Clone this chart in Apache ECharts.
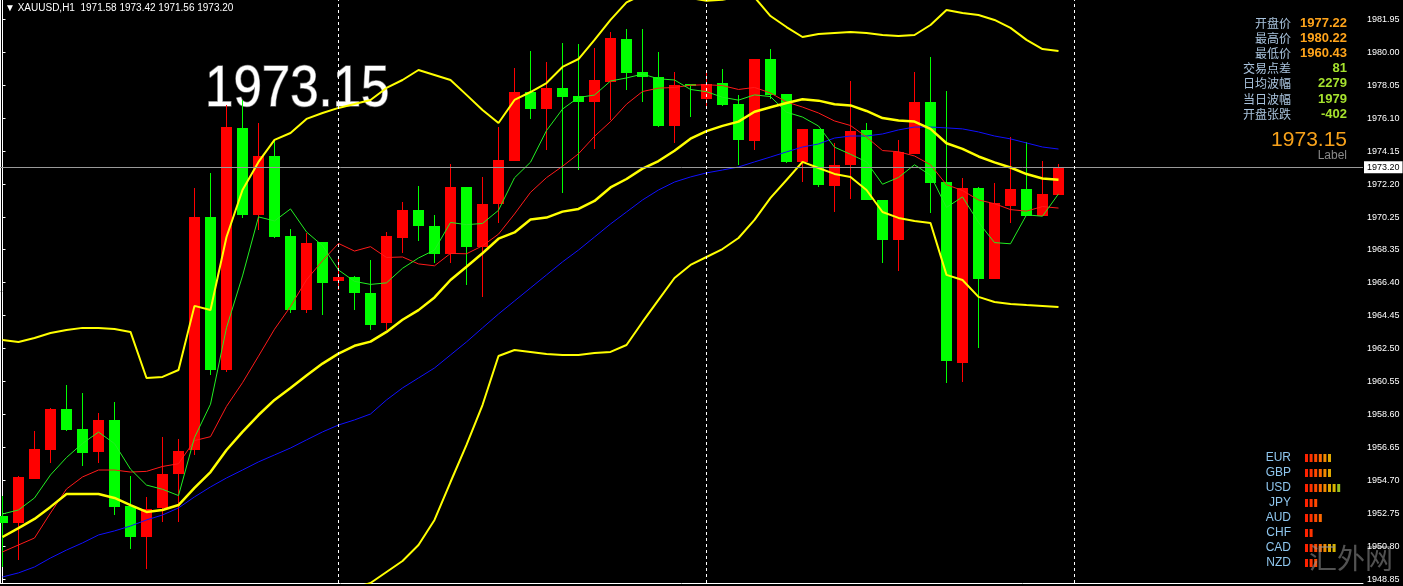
<!DOCTYPE html>
<html><head><meta charset="utf-8">
<script src="https://cdn.jsdelivr.net/npm/echarts@6/dist/echarts.min.js"></script>
<style>html,body{margin:0;padding:0;background:#000;}#c{width:1403px;height:586px;}</style>
</head><body><div id="c"></div>
<script>
// ---- data (index = hourly bar number, left to right) ----
const opens = [1952.59,1952.20,1954.78,1956.49,1958.92,1957.73,1956.39,1958.27,1953.18,1951.37,1953.05,1955.07,1956.49,1970.28,1961.22,1975.54,1970.38,1973.89,1969.16,1964.77,1968.79,1966.48,1966.70,1965.75,1963.98,1969.04,1970.68,1969.73,1968.06,1972.06,1968.51,1971.01,1973.59,1977.67,1976.65,1977.89,1977.41,1977.08,1978.26,1980.78,1978.85,1978.52,1975.64,1978.11,1977.22,1978.20,1976.94,1974.77,1979.60,1977.53,1973.53,1975.46,1972.11,1973.34,1975.40,1971.27,1968.90,1973.99,1977.08,1972.35,1961.65,1972.00,1966.60,1970.93,1971.94,1970.34,1971.58];
const highs = [1953.77,1954.96,1957.63,1958.95,1960.33,1959.84,1958.66,1959.35,1954.96,1953.73,1957.28,1957.14,1971.96,1972.88,1976.88,1977.18,1975.80,1974.81,1969.54,1969.30,1968.79,1967.76,1966.78,1967.72,1969.39,1971.17,1972.12,1970.38,1973.40,1972.06,1972.65,1975.60,1979.09,1980.07,1979.44,1980.56,1980.49,1980.23,1981.21,1981.37,1981.37,1980.00,1978.85,1978.12,1978.85,1979.01,1977.47,1979.60,1980.22,1977.53,1975.46,1975.46,1974.62,1978.30,1975.80,1971.27,1974.81,1978.81,1979.70,1977.73,1972.55,1972.06,1972.29,1975.01,1974.72,1973.59,1973.42];
const lows = [1949.58,1949.99,1954.75,1955.74,1957.64,1955.56,1955.74,1952.65,1950.64,1949.44,1952.26,1952.26,1956.20,1960.93,1961.10,1970.22,1969.49,1969.00,1964.57,1964.61,1964.47,1965.95,1964.77,1963.59,1963.59,1968.12,1968.86,1967.56,1967.53,1966.24,1965.52,1969.89,1973.59,1976.04,1974.22,1971.66,1973.04,1974.27,1976.00,1977.77,1977.08,1975.57,1974.66,1976.19,1976.75,1976.82,1973.34,1974.22,1977.22,1973.47,1972.35,1972.05,1970.56,1971.33,1971.27,1967.53,1967.07,1973.99,1970.48,1960.43,1960.50,1962.50,1966.60,1969.89,1970.34,1970.34,1971.56];
const closes = [1952.18,1954.91,1956.55,1958.92,1957.67,1956.33,1958.27,1953.14,1951.37,1952.99,1955.07,1956.45,1970.28,1961.22,1975.57,1970.38,1973.89,1969.10,1964.77,1968.74,1966.35,1966.70,1965.75,1963.88,1969.16,1970.68,1969.75,1968.06,1972.06,1968.51,1971.03,1973.63,1977.67,1976.65,1977.89,1977.37,1977.08,1978.36,1980.82,1978.79,1978.52,1975.64,1978.05,1978.01,1978.12,1976.88,1974.81,1979.60,1977.47,1973.53,1975.46,1972.15,1973.34,1975.36,1971.27,1968.90,1974.12,1977.08,1972.29,1961.77,1972.00,1966.60,1971.07,1971.94,1970.34,1971.62,1973.20];
const maFast = [1952.71,1952.95,1953.66,1955.02,1956.05,1956.88,1957.55,1956.87,1955.36,1954.42,1954.17,1953.80,1957.23,1959.20,1963.72,1966.78,1970.27,1970.03,1970.74,1969.38,1968.57,1967.13,1966.46,1966.28,1966.37,1967.23,1967.84,1968.31,1969.94,1969.81,1969.88,1970.66,1972.58,1973.50,1975.37,1976.64,1977.33,1977.47,1978.30,1978.48,1978.71,1978.43,1978.36,1977.80,1977.67,1977.34,1977.17,1977.48,1977.38,1976.46,1976.17,1975.64,1974.39,1973.97,1973.52,1972.20,1972.60,1973.35,1972.73,1970.83,1971.45,1969.95,1968.75,1968.68,1970.39,1970.31,1971.63];
const maMid = [1950.47,1950.88,1951.29,1952.77,1954.19,1954.90,1955.31,1955.31,1955.19,1955.23,1955.52,1955.68,1957.05,1957.28,1959.07,1960.47,1962.04,1963.63,1964.97,1966.55,1967.68,1968.70,1968.25,1968.51,1967.87,1967.90,1967.49,1967.38,1968.11,1968.09,1968.56,1969.25,1970.44,1971.72,1972.59,1973.26,1974.00,1975.03,1975.90,1976.93,1977.68,1977.88,1977.92,1978.05,1978.08,1978.03,1977.80,1977.92,1977.59,1977.06,1976.76,1976.41,1975.94,1975.67,1974.99,1974.19,1974.12,1973.87,1973.35,1972.17,1971.83,1971.27,1971.05,1970.70,1970.61,1970.88,1970.79];
const maSlow = [1948.99,1949.23,1949.58,1950.11,1950.58,1951.00,1951.47,1951.71,1952.00,1952.36,1952.65,1953.07,1953.72,1954.31,1954.84,1955.31,1955.79,1956.20,1956.61,1957.09,1957.56,1957.97,1958.27,1958.62,1959.45,1960.16,1960.75,1961.34,1962.11,1962.88,1963.71,1964.53,1965.30,1966.07,1966.84,1967.61,1968.31,1969.08,1969.85,1970.56,1971.27,1971.86,1972.33,1972.63,1972.87,1973.04,1973.22,1973.52,1973.81,1974.11,1974.40,1974.58,1974.93,1975.05,1975.05,1975.17,1975.41,1975.58,1975.58,1975.53,1975.47,1975.29,1975.05,1974.88,1974.64,1974.40,1974.28];
const bandMid = [1951.35,1951.88,1952.42,1953.13,1953.89,1953.89,1953.89,1953.66,1953.24,1952.83,1952.95,1953.24,1954.25,1955.19,1956.49,1957.56,1958.56,1959.45,1960.16,1960.89,1961.60,1962.19,1962.65,1962.90,1963.47,1964.19,1964.76,1965.51,1966.54,1967.32,1968.12,1968.98,1969.35,1970.12,1970.23,1970.58,1970.74,1971.21,1972.01,1972.51,1973.12,1973.57,1974.18,1974.89,1975.34,1975.65,1975.90,1976.48,1976.75,1977.00,1977.22,1977.14,1976.93,1976.86,1976.53,1976.11,1975.96,1975.90,1975.47,1974.62,1974.29,1973.84,1973.49,1973.19,1972.80,1972.54,1972.46];
const bandUpper = [1963.00,1962.88,1963.11,1963.41,1963.59,1963.71,1963.71,1963.65,1963.47,1960.75,1960.81,1961.22,1965.01,1964.77,1969.08,1971.86,1973.52,1974.82,1975.23,1976.06,1976.41,1976.71,1976.94,1977.18,1977.89,1978.36,1978.95,1978.66,1978.36,1977.48,1976.59,1975.82,1977.18,1977.65,1978.18,1979.13,1979.60,1980.73,1981.91,1982.95,1983.40,1983.30,1983.30,1983.20,1983.05,1983.10,1983.30,1983.25,1982.14,1981.49,1980.90,1981.08,1981.14,1981.20,1981.14,1981.02,1980.96,1981.02,1981.61,1982.50,1982.32,1982.20,1981.91,1981.44,1980.73,1980.19,1980.08];
const bandLower = [1939.71,1940.89,1941.72,1942.84,1944.20,1944.08,1944.08,1943.67,1943.02,1944.91,1945.09,1945.27,1943.49,1945.62,1943.91,1943.26,1943.61,1944.08,1945.09,1945.74,1946.80,1947.69,1948.34,1948.63,1949.28,1949.93,1950.88,1952.36,1954.60,1956.79,1959.15,1962.05,1962.40,1962.29,1962.17,1962.11,1962.11,1962.23,1962.29,1962.70,1964.06,1965.36,1966.66,1967.43,1967.90,1968.37,1969.02,1970.09,1971.39,1972.45,1973.52,1973.16,1972.81,1972.63,1971.86,1970.56,1970.21,1970.03,1969.91,1966.84,1966.54,1965.54,1965.24,1965.12,1965.06,1965.01,1964.95];
const priceTicks = [1981.95,1980.00,1978.05,1976.10,1974.15,1972.20,1970.25,1968.35,1966.40,1964.45,1962.50,1960.55,1958.60,1956.65,1954.70,1952.75,1950.80,1948.85];
const daySeparators = [21, 44, 67];
const lastPrice = 1973.20;
const headerText = '▼ XAUUSD,H1  1971.58 1973.42 1971.56 1973.20';
const bigLabel = '1973.15';
const infoLabels = ['开盘价','最高价','最低价','交易点差','日均波幅','当日波幅','开盘张跌'];
const infoValues = ['1977.22','1980.22','1960.43','81','2279','1979','-402'];
const infoValueKinds = ['o','o','o','g','g','g','g'];
const currencies = ['EUR','GBP','USD','JPY','AUD','CHF','CAD','NZD'];
const strength = [6,6,8,3,4,2,7,3];

// ---- chart ----
const chart = echarts.init(document.getElementById('c'), null, {renderer:'canvas'});
const idx = (arr) => arr.map((v,i)=>[i,v]);
const candleData = opens.map((o,i)=>[i,o,closes[i],lows[i],highs[i]]);
const UP = '#ff0000', DOWN = '#00ff00';

function renderCandle(params, api){
  const i = api.value(0), o = api.value(1), c = api.value(2), l = api.value(3), h = api.value(4);
  const pO = api.coord([i,o]), pC = api.coord([i,c]), pL = api.coord([i,l]), pH = api.coord([i,h]);
  const col = c >= o ? UP : DOWN;
  const x = pO[0];
  const top = Math.round(Math.min(pO[1], pC[1]));
  const bot = Math.round(Math.max(pO[1], pC[1]));
  return {type:'group', children:[
    {type:'line', shape:{x1:x,y1:Math.round(pH[1]),x2:x,y2:Math.round(pL[1])}, style:{stroke:col,lineWidth:1}},
    {type:'rect', shape:{x:Math.round(x-5.5), y:top, width:11, height:Math.max(1,bot-top)}, style:{fill:col}}
  ]};
}

const lineS = (name, arr, color, width) => ({
  name, type:'line', data: idx(arr), showSymbol:false, symbol:'none', animation:false,
  lineStyle:{color, width}, silent:true, z:3
});

const graphics = [];
graphics.push({type:'line', shape:{x1:0.5,y1:0,x2:0.5,y2:583}, style:{stroke:'#ffffff',lineWidth:1}});
graphics.push({type:'text', x:5, y:3, style:{text:headerText, fill:'#ffffff', font:'10px "Liberation Sans", Arial, sans-serif'}});
graphics.push({type:'text', x:205, y:61, scaleX:0.88, style:{text:bigLabel, fill:'#ffffff', stroke:'#6a6a6a', lineWidth:1.5, font:'58px "Liberation Sans", Arial, sans-serif'}});
infoLabels.forEach((t,k)=>{
  const y = 23 + k*15.2;
  graphics.push({type:'text', x:1291, y:y, style:{text:t, fill:'#a9c3dd', align:'right', verticalAlign:'middle', font:'12px "Noto Sans CJK SC", sans-serif'}});
  graphics.push({type:'text', x:1347, y:y, style:{text:infoValues[k], fill: infoValueKinds[k]==='o' ? '#ffa41b' : '#a6e22e', align:'right', verticalAlign:'middle', font:'bold 13px "Liberation Sans", Arial, sans-serif'}});
});
graphics.push({type:'text', x:1347, y:140, style:{text:bigLabel, fill:'#f7a21b', align:'right', verticalAlign:'middle', font:'21px "Liberation Sans", Arial, sans-serif'}});
graphics.push({type:'text', x:1347, y:156, style:{text:'Label', fill:'#8a8a8a', align:'right', verticalAlign:'middle', font:'12px "Liberation Sans", Arial, sans-serif'}});
const blockColors = ['#ff2200','#ff3300','#ff4a00','#ff6a00','#f08a00','#e0a800','#d8b400','#98c020'];
currencies.forEach((cur,k)=>{
  const y = 458 + k*15;
  graphics.push({type:'text', x:1291, y:y, style:{text:cur, fill:'#8fc6ee', align:'right', verticalAlign:'middle', font:'12px "Liberation Sans", Arial, sans-serif'}});
  for(let b=0;b<strength[k];b++){
    graphics.push({type:'rect', shape:{x:1305 + b*4.6, y:y-4, width:3, height:8}, style:{fill:blockColors[b]}});
  }
});
graphics.push({type:'text', x:1351, y:558, style:{text:'汇外网', fill:'rgba(150,150,150,0.55)', align:'center', verticalAlign:'middle', font:'28px "Noto Sans CJK SC", sans-serif'}});

chart.setOption({
  backgroundColor:'#000000',
  animation:false,
  grid:{left:0, right:40, top:0, bottom:3, containLabel:false},
  xAxis:{type:'value', min:-0.15625, max:85.03125, position:'bottom',
    axisLine:{show:true, onZero:false, lineStyle:{color:'#ffffff', width:1}}, axisTick:{show:false}, axisLabel:{show:false}, splitLine:{show:false}},
  yAxis:{type:'value', position:'right', min:1948.632, max:1983.088, scale:true,
    axisLine:{show:true, lineStyle:{color:'#ffffff', width:1}},
    axisTick:{show:true, length:3, inside:false, lineStyle:{color:'#ffffff'}, customValues: priceTicks},
    axisLabel:{show:true, color:'#ffffff', fontSize:9, margin:4, fontFamily:'"Liberation Sans", Arial, sans-serif', customValues: priceTicks, formatter:(v)=>v.toFixed(2)},
    splitLine:{show:false}},
  series:[
    {type:'custom', name:'candles', renderItem:renderCandle, data:candleData, encode:{x:0, y:[1,2,3,4]}, z:2, animation:false,
      markLine:{symbol:['none','none'], silent:true, animation:false,
        data:[
          {yAxis:lastPrice, lineStyle:{color:'#9a9a9a', type:'solid', width:1},
           label:{show:true, position:'end', distance:1, formatter:lastPrice.toFixed(2), color:'#000', backgroundColor:'#fff', fontSize:9, fontFamily:'"Liberation Sans", Arial', padding:[2,3,1,3]}},
          ...daySeparators.map(d=>({xAxis:d, lineStyle:{color:'#ffffff', type:[3,3], width:1}, label:{show:false}}))
        ]}},
    lineS('slow', maSlow, '#1010ff', 1),
    lineS('mid', maMid, '#ff1a1a', 1),
    lineS('fast', maFast, '#22ee22', 1),
    lineS('bbUpper', bandUpper, '#ffff00', 2),
    lineS('bbMid', bandMid, '#ffff00', 2.5),
    lineS('bbLower', bandLower, '#ffff00', 2)
  ],
  graphic: graphics
});
</script></body></html>
